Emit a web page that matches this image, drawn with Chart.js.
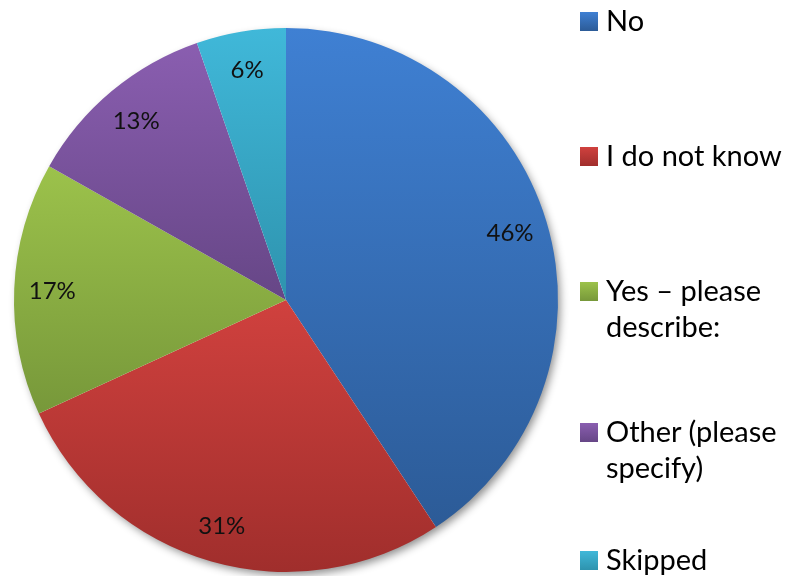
<!DOCTYPE html>
<html>
<head>
<meta charset="utf-8">
<script src="https://cdn.jsdelivr.net/npm/chart.js@4/dist/chart.umd.min.js"></script>
<style>
  html, body { margin: 0; padding: 0; background: #fff; }
  #wrap { position: relative; width: 789px; height: 576px; overflow: hidden; }
  #myChart { position: absolute; left: 0; top: 0; }
  .key { position: absolute; left: 580px; width: 18px; height: 19px; }
  .txt { position: absolute; left: 606px; width: 183px; font-family: Lato, sans-serif; font-size: 29px; line-height: 36px; color: #000; }
</style>
</head>
<body>
<div id="wrap">
  <canvas id="myChart" width="789" height="576"></canvas>
  <div id="legend"></div>
</div>
<script>
var labels = ['No', 'I do not know', 'Yes \u2013 please describe:', 'Other (please specify)', 'Skipped'];
var values = [46, 31, 17, 13, 6];
// each slice is shaded from a lighter top to a darker bottom
var topColors = ['#3f80d3', '#d0413e', '#9cc24b', '#8a5eb0', '#40b8d9'];
var bottomColors = ['#2c5b97', '#a02e2c', '#77983a', '#664686', '#2e93ae'];
// legend rows, first line baseline in px
var legendBaselines = [31, 166, 301, 442, 570];

var total = 0;
for (var i = 0; i < values.length; i++) total += values[i];

function sliceGradient(ctx) {
    var chart = ctx.chart;
    var area = chart.chartArea;
    var i = ctx.dataIndex;
    if (!area) return topColors[i];
    var cx = (area.left + area.right) / 2;
    var cy = (area.top + area.bottom) / 2;
    var r = Math.min(area.width, area.height) / 2;
    var before = 0;
    for (var k = 0; k < i; k++) before += values[k];
    var a0 = before / total * Math.PI * 2;
    var a1 = (before + values[i]) / total * Math.PI * 2;
    // angles go clockwise from 12 o'clock
    var ys = [cy, cy - r * Math.cos(a0), cy - r * Math.cos(a1)];
    if (a0 <= 0) ys.push(cy - r);
    if (a0 < Math.PI && a1 > Math.PI) ys.push(cy + r);
    var y0 = Math.min.apply(null, ys);
    var y1 = Math.max.apply(null, ys);
    var g = chart.ctx.createLinearGradient(0, y0, 0, y1);
    g.addColorStop(0, topColors[i]);
    g.addColorStop(1, bottomColors[i]);
    return g;
}

// soft drop shadow under the whole pie
var pieShadow = {
    id: 'pieShadow',
    beforeDatasetsDraw: function (chart) {
        var arc = chart.getDatasetMeta(0).data[0];
        if (!arc) return;
        var c = chart.ctx;
        c.save();
        c.shadowColor = 'rgba(0,0,0,0.45)';
        c.shadowBlur = 9;
        c.shadowOffsetX = 3;
        c.shadowOffsetY = 4;
        c.fillStyle = '#fff';
        c.beginPath();
        c.arc(arc.x, arc.y, arc.outerRadius - 1, 0, Math.PI * 2);
        c.fill();
        c.restore();
    }
};

// percentage labels near the outer edge of each slice
var sliceLabels = {
    id: 'sliceLabels',
    afterDatasetsDraw: function (chart) {
        var c = chart.ctx;
        var arcs = chart.getDatasetMeta(0).data;
        c.save();
        c.font = '24px Lato, sans-serif';
        c.fillStyle = '#111';
        c.textAlign = 'center';
        c.textBaseline = 'middle';
        for (var i = 0; i < arcs.length; i++) {
            var p = arcs[i].getProps(['x', 'y', 'startAngle', 'endAngle', 'outerRadius'], true);
            var mid = (p.startAngle + p.endAngle) / 2;
            var rr = p.outerRadius * 0.86;
            c.fillText(values[i] + '%', p.x + Math.cos(mid) * rr, p.y + Math.sin(mid) * rr + 1);
        }
        c.restore();
    }
};

var legend = document.getElementById('legend');
for (var i = 0; i < labels.length; i++) {
    var key = document.createElement('div');
    key.className = 'key';
    key.style.top = (legendBaselines[i] - 19) + 'px';
    key.style.background = 'linear-gradient(' + topColors[i] + ', ' + bottomColors[i] + ')';
    legend.appendChild(key);
    var txt = document.createElement('div');
    txt.className = 'txt';
    txt.style.top = (legendBaselines[i] - 29) + 'px';
    txt.textContent = labels[i];
    legend.appendChild(txt);
}

var ctx = document.getElementById('myChart');
window.myPie = new Chart(ctx, {
    type: 'pie',
    data: {
        labels: labels,
        datasets: [{
            data: values,
            backgroundColor: sliceGradient,
            borderWidth: 0
        }]
    },
    options: {
        responsive: false,
        animation: false,
        events: [],
        layout: { padding: { left: 14, right: 231, top: 28, bottom: 4 } },
        plugins: {
            legend: { display: false },
            tooltip: { enabled: false }
        }
    },
    plugins: [pieShadow, sliceLabels]
});
</script>
</body>
</html>
